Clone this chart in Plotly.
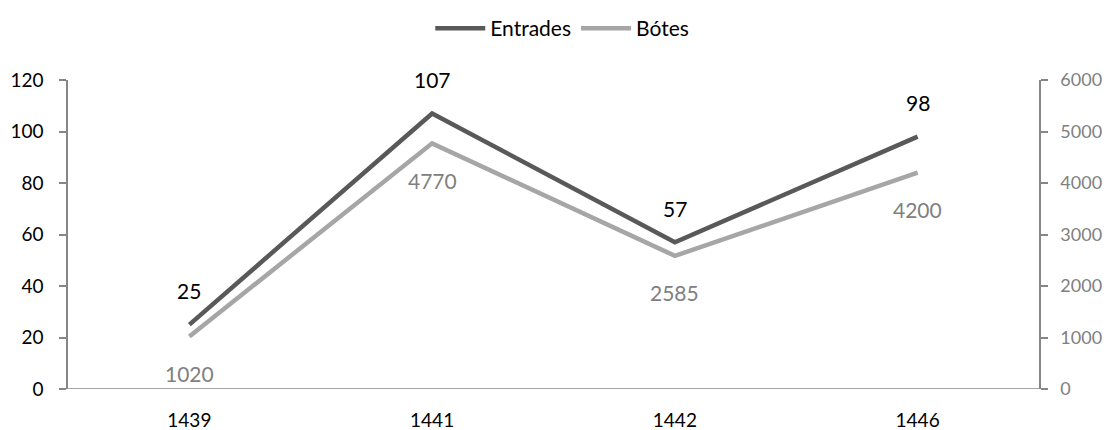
import plotly.graph_objects as go

years = ["1439", "1441", "1442", "1446"]
entrades = [25, 107, 57, 98]
botes = [1020, 4770, 2585, 4200]

dark = "#595959"
light = "#A6A6A6"
axis_col = "#868686"
font_family = "Lato, 'Open Sans', sans-serif"

idx = list(range(len(years)))

fig = go.Figure()
fig.add_trace(go.Scatter(x=idx, y=entrades, name="Entrades", mode="lines",
                         line=dict(color=dark, width=4.5), yaxis="y"))
fig.add_trace(go.Scatter(x=idx, y=botes, name="Bótes", mode="lines",
                         line=dict(color=light, width=4.5), yaxis="y2"))

annotations = []
for i, v in zip(idx, entrades):
    annotations.append(dict(x=i, y=v, xref="x", yref="y", text=str(v), showarrow=False,
                            yshift=34, font=dict(size=21, color="#000000", family=font_family)))
for i, v in zip(idx, botes):
    annotations.append(dict(x=i, y=v, xref="x", yref="y2", text=str(v), showarrow=False,
                            yshift=-37, font=dict(size=21, color="#808080", family=font_family)))

fig.update_layout(
    width=1104, height=422,
    margin=dict(l=60, r=73, t=72, b=41, autoexpand=False),
    paper_bgcolor="white", plot_bgcolor="white",
    font=dict(family=font_family, size=16, color="#000000"),
    showlegend=True,
    legend=dict(orientation="h", x=0.509, xanchor="center", y=1.0, yref="container",
                yanchor="top", font=dict(size=21), itemwidth=50, traceorder="normal"),
    xaxis=dict(range=[-0.5, 3.5], tickmode="array", tickvals=idx, ticktext=years,
               showgrid=False, zeroline=False, showline=False, ticks="",
               tickfont=dict(size=19), ticklabelstandoff=18, automargin=False),
    yaxis=dict(range=[0, 120], dtick=20, showgrid=False, zeroline=False,
               showline=True, linecolor=axis_col, linewidth=1.5,
               ticks="outside", ticklen=7, tickcolor=axis_col, tickwidth=1.5,
               tickfont=dict(size=19, color="#000000"), ticklabelstandoff=12,
               automargin=False),
    yaxis2=dict(range=[0, 6000], dtick=1000, overlaying="y", side="right",
                showgrid=False, zeroline=False, showline=True, linecolor=axis_col,
                linewidth=1.5, ticks="outside", ticklen=7, tickcolor=axis_col,
                tickwidth=1.5, tickfont=dict(size=18, color="#808080"),
                ticklabelstandoff=9, automargin=False),
    annotations=annotations,
    shapes=[dict(type="line", xref="paper", yref="y", x0=0, x1=1, y0=0, y1=0,
                 line=dict(color=axis_col, width=1.5))],
)

fig.write_html("out.html")
